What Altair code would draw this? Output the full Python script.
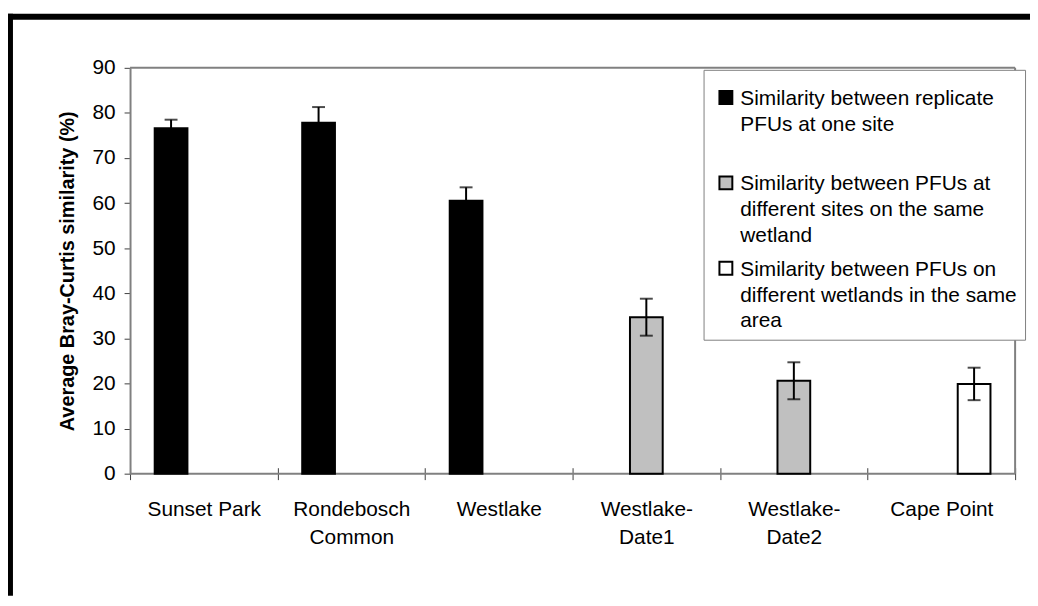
import json
import altair as alt
import pandas as pd

# ---------------- data ----------------
categories = ["Sunset Park", "Rondebosch Common", "Westlake",
              "Westlake-Date1", "Westlake-Date2", "Cape Point"]
category_lines = [["Sunset Park"], ["Rondebosch", "Common"], ["Westlake"],
                  ["Westlake-", "Date1"], ["Westlake-", "Date2"], ["Cape Point"]]

series_names = [
    "Similarity between replicate PFUs at one site",
    "Similarity between PFUs at different sites on the same wetland",
    "Similarity between PFUs on different wetlands in the same area",
]
series_lines = [
    ["Similarity between replicate", "PFUs at one site", ""],
    ["Similarity between PFUs at", "different sites on the same", "wetland"],
    ["Similarity between PFUs on", "different wetlands in the same", "area"],
]
series_colors = ["#000000", "#C0C0C0", "#FFFFFF"]

bar_series = [0, 0, 0, 1, 1, 2]
means = [76.6, 77.8, 60.5, 34.7, 20.6, 19.9]
errors = [1.9, 3.5, 3.0, 4.1, 4.1, 3.6]
y_ticks = [0, 10, 20, 30, 40, 50, 60, 70, 80, 90]

y_title = "Average Bray-Curtis similarity (%)"

df = pd.DataFrame({
    "category": categories,
    "series": [series_names[i] for i in bar_series],
    "value": means,
    "err": errors,
})

FONT = "Liberation Sans, Arial, Helvetica, sans-serif"

x_expr = "".join(
    f"datum.value === {json.dumps(c)} ? {json.dumps(l)} : "
    for c, l in zip(categories, category_lines)
) + "datum.label"
leg_expr = "".join(
    f"datum.label === {json.dumps(s)} ? {json.dumps(l)} : "
    for s, l in zip(series_names, series_lines)
) + "datum.label"

x_enc = alt.X(
    "category:N", sort=categories,
    scale=alt.Scale(domain=categories, paddingInner=0, paddingOuter=0),
    axis=alt.Axis(
        title=None, labelAngle=0, labelExpr=x_expr, labelBaseline="top",
        labelLineHeight=28, labelPadding=19, labelFont=FONT, labelFontSize=21,
        labelColor="black", tickBand="extent", tickSize=12, tickColor="#404040",
        tickWidth=1, domain=False, offset=-6, labelLimit=300,
    ),
)
xoff_enc = alt.XOffset(
    "series:N",
    scale=alt.Scale(domain=series_names, paddingInner=0, paddingOuter=0.753),
)
y_axis = alt.Axis(
    values=y_ticks, title=y_title, titleFont=FONT, titleFontSize=20,
    titleFontWeight="bold", titleColor="black", titlePadding=15,
    labelFont=FONT, labelFontSize=21, labelColor="black", labelPadding=9,
    tickSize=6, tickColor="#404040", tickWidth=1, domainColor="#808080",
    domainWidth=2, grid=False,
)
y_scale = alt.Scale(domain=[0, 90], nice=False, zero=True)

legend = alt.Legend(
    title=None, orient="none", legendX=578, legendY=2,
    fillColor="white", strokeColor="#808080", padding=8,
    symbolType="M-1,0.45H1V2.45H-1Z", symbolSize=169,
    symbolStrokeColor="black", symbolStrokeWidth=2, symbolOffset=4,
    labelOffset=4, labelFont=FONT, labelFontSize=21, labelColor="black",
    labelBaseline="top", labelLimit=600, labelExpr=leg_expr, rowPadding=2,
)

base = alt.Chart(df)

bars = base.mark_bar(stroke="black", strokeWidth=2).encode(
    x=x_enc, xOffset=xoff_enc,
    y=alt.Y("value:Q", scale=y_scale, axis=y_axis),
    fill=alt.Fill("series:N",
                  scale=alt.Scale(domain=series_names, range=series_colors),
                  legend=legend),
)

err = base.transform_calculate(
    lo="datum.value - datum.err", hi="datum.value + datum.err"
)
err_rule = err.mark_rule(color="black", strokeWidth=2).encode(
    x=x_enc, xOffset=xoff_enc,
    y=alt.Y("lo:Q", scale=y_scale, axis=y_axis), y2="hi:Q",
)
cap_hi = err.mark_tick(color="black", thickness=2, size=13).encode(
    x=x_enc, xOffset=xoff_enc, y=alt.Y("hi:Q", scale=y_scale, axis=y_axis),
)
cap_lo = err.mark_tick(color="black", thickness=2, size=13).encode(
    x=x_enc, xOffset=xoff_enc, y=alt.Y("lo:Q", scale=y_scale, axis=y_axis),
)

deco = alt.Chart(alt.Data(values=[{"d": 1}]))
top_border = deco.mark_rule(color="#808080", strokeWidth=2).encode(
    x=alt.value(0), x2=alt.value(892), y=alt.value(0))
bottom_border = deco.mark_rule(color="#808080", strokeWidth=2).encode(
    x=alt.value(0), x2=alt.value(892), y=alt.value(409))
right_border = deco.mark_rule(color="#808080", strokeWidth=2).encode(
    x=alt.value(892), y=alt.value(0), y2=alt.value(409))
frame_left = deco.mark_rule(color="black", strokeWidth=6).encode(
    x=alt.value(-121), y=alt.value(-54.5), y2=alt.value(532))
frame_top = deco.mark_rule(color="black", strokeWidth=6).encode(
    x=alt.value(-124), x2=alt.value(907), y=alt.value(-51.5))

chart = alt.layer(
    top_border, bottom_border, right_border, bars, err_rule, cap_hi, cap_lo,
    frame_left, frame_top
).properties(
    width=892, height=409,
    autosize=alt.AutoSizeParams(type="none"),
    padding={"left": 123, "top": 58, "right": 15, "bottom": 123},
    background="white",
).configure(
    style={"guide-label": {"lineHeight": 26}},
).configure_view(strokeWidth=0)

chart.save("out.html", embed_options={"renderer": "svg", "actions": False})
